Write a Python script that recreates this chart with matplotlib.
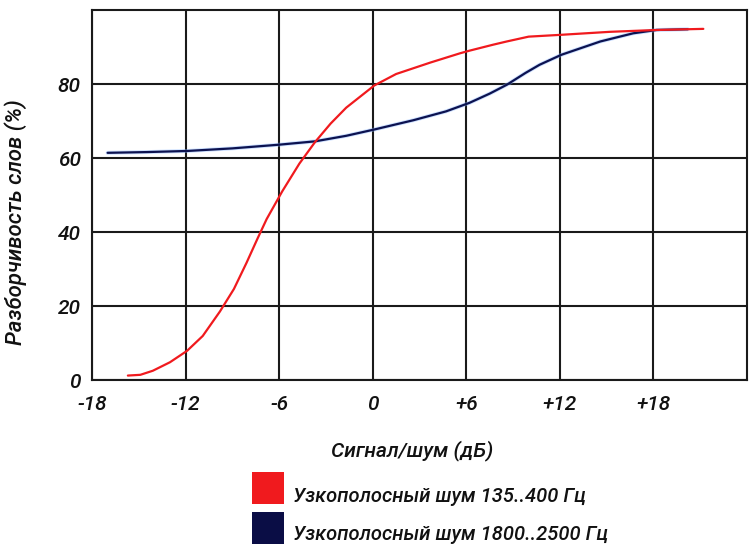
import matplotlib
matplotlib.use("Agg")
import matplotlib.pyplot as plt
from matplotlib.patches import Rectangle

# ---- data ----
x_ticks = [-18, -12, -6, 0, 6, 12, 18]
x_tick_labels = ["-18", "-12", "-6", "0", "+6", "+12", "+18"]
y_ticks = [0, 20, 40, 60, 80]
y_tick_labels = ["0", "20", "40", "60", "80"]

red_x = [-15.7, -14.9, -14.1, -13.0, -11.9, -10.9, -9.8, -8.9, -8.1, -7.4, -6.8,
         -5.8, -4.7, -3.7, -2.7, -1.7, 0.1, 1.5, 3.7, 5.6, 6.2, 7.7, 8.6, 10.0,
         12.1, 15.2, 18.2, 21.2]
red_y = [1.2, 1.4, 2.5, 4.8, 7.9, 11.9, 18.5, 24.6, 31.6, 38.1, 43.5,
         51.0, 58.5, 64.3, 69.3, 73.6, 79.6, 82.7, 85.8, 88.3, 89.0, 90.6, 91.5, 92.8,
         93.3, 94.1, 94.6, 94.9]

blue_x = [-17.0, -14.5, -11.9, -9.0, -6.0, -3.7, -1.7, 0.1, 2.6, 4.7, 6.2, 7.5, 8.6,
          9.8, 10.7, 12.1, 14.6, 16.7, 18.2, 20.2]
blue_y = [61.4, 61.6, 61.9, 62.6, 63.6, 64.5, 66.0, 67.7, 70.2, 72.6, 74.9, 77.4, 79.8,
          83.0, 85.2, 87.9, 91.5, 93.7, 94.6, 94.8]

series_names = ["Узкополосный шум 135..400 Гц", "Узкополосный шум 1800..2500 Гц"]
x_label = "Сигнал/шум (дБ)"
y_label = "Разборчивость слов (%)"

RED = "#f01a1e"
NAVY = "#0c1250"
LEG_NAVY = "#0a0d45"

plt.rcParams["font.family"] = ["Roboto", "DejaVu Sans"]
plt.rcParams["font.style"] = "italic"
plt.rcParams["font.weight"] = "medium"

W, H = 755, 553
fig = plt.figure(figsize=(W / 100, H / 100), dpi=100)
ax = fig.add_axes([92 / W, 1 - 380 / H, (747 - 92) / W, (380 - 10) / H])

ax.set_xlim(-18, 24)
ax.set_ylim(0, 100)
ax.set_xticks(x_ticks)
ax.set_xticklabels(x_tick_labels, fontsize=15, style="italic", weight="medium")
ax.set_yticks(y_ticks)
ax.set_yticklabels(y_tick_labels, fontsize=15, style="italic", weight="medium")
ax.set_xticks([24], minor=True)
ax.set_yticks([100], minor=True)
ax.tick_params(axis="both", which="both", length=0, colors="#111111")
ax.tick_params(axis="x", pad=11)
ax.tick_params(axis="y", pad=8)

ax.grid(True, which="major", color="#1a1a1a", linewidth=1.5)
for s in ax.spines.values():
    s.set_color("#1a1a1a")
    s.set_linewidth(1.5)
ax.set_axisbelow(True)

ax.plot(blue_x, blue_y, color="#8ab8ff", linewidth=2.8, solid_capstyle="round",
        solid_joinstyle="round", alpha=0.45)
ax.plot(blue_x, blue_y, color=NAVY, linewidth=1.6, solid_capstyle="round",
        solid_joinstyle="round")
ax.plot(red_x, red_y, color=RED, linewidth=1.6, solid_capstyle="round",
        solid_joinstyle="round")

ax.set_xlabel(x_label, fontsize=15, style="italic", weight="medium", color="#111111")
ax.xaxis.set_label_coords((412 - 92) / 655, (380 - 440) / 370)
ax.set_ylabel(y_label, fontsize=16, style="italic", weight="medium", color="#111111")
ax.yaxis.set_label_coords((27 - 92) / 655, (380 - 222) / 370)

# legend drawn as in the reference: square above-left of each text
leg_colors = [RED, LEG_NAVY]
sq_top = [472, 512]
txt_y = [497, 535]
for col, top, ty, name in zip(leg_colors, sq_top, txt_y, series_names):
    fig.add_artist(Rectangle((252 / W, 1 - (top + 32) / H), 32 / W, 32 / H,
                             transform=fig.transFigure, facecolor=col, edgecolor="none"))
    fig.text(293 / W, 1 - ty / H, name, fontsize=14.5, style="italic", weight="medium",
             ha="left", va="center", color="#111111")

fig.savefig("out.png", dpi=100)
